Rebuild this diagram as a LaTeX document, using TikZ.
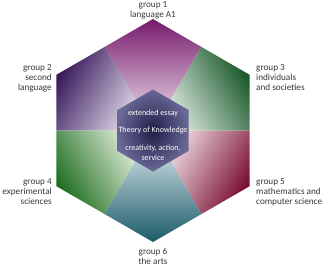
\documentclass[tikz,border=0pt]{standalone}
\usepackage{fontspec}
\setmainfont{Carlito}
\usepackage{tikz}
\usetikzlibrary{calc,positioning}
\definecolor{gOneD}{HTML}{761A6C}\definecolor{gOneM}{HTML}{B26AA8}\definecolor{gOneL}{HTML}{F6EEF4}
\definecolor{gTwoD}{HTML}{3A1C5E}\definecolor{gTwoM}{HTML}{7B5EA2}\definecolor{gTwoL}{HTML}{EEEAF4}
\definecolor{gThrD}{HTML}{1B5A2C}\definecolor{gThrM}{HTML}{5E9C74}\definecolor{gThrL}{HTML}{EEF6F0}
\definecolor{gFouD}{HTML}{216F22}\definecolor{gFouM}{HTML}{73AE5E}\definecolor{gFouL}{HTML}{F2F8EA}
\definecolor{gFivD}{HTML}{7A0F32}\definecolor{gFivM}{HTML}{C25A78}\definecolor{gFivL}{HTML}{FAEEF2}
\definecolor{gSixD}{HTML}{1A5A68}\definecolor{gSixM}{HTML}{62A6C4}\definecolor{gSixL}{HTML}{EEF6FA}
\definecolor{coreIn}{HTML}{201E48}\definecolor{coreOut}{HTML}{6A6896}
\tikzset{
  grouplabel/.style={font=\fontsize{9.2}{10}\selectfont, text=black!78, inner sep=0pt},
  corelabel/.style={font=\fontsize{8}{9.5}\selectfont, text=white, align=center, inner sep=0pt}
}
\begin{document}
\begin{tikzpicture}[x=1pt,y=1pt]
\useasboundingbox (0,0) rectangle (322,269);
\coordinate (hub) at (153,138.5);
% six sectors, each shaded from the hub towards its corner
\foreach \ang/\cd/\cm/\cl in {90/gOneD/gOneM/gOneL,150/gTwoD/gTwoM/gTwoL,30/gThrD/gThrM/gThrL,
                              210/gFouD/gFouM/gFouL,330/gFivD/gFivM/gFivL,270/gSixD/gSixM/gSixL}{
  \pgfmathsetmacro{\rot}{\ang-90}
  \shade[top color=\cd, middle color=\cm, bottom color=\cl, shading angle=\rot]
    (hub) -- ($(hub)+(\ang-30:96.56)$) -- ($(hub)+(\ang:111.5)$) -- ($(hub)+(\ang+30:96.56)$) -- cycle;
}
% core hexagon
\shade[inner color=coreIn, outer color=coreOut]
  ($(hub)+(90:41)$) -- ($(hub)+(150:41)$) -- ($(hub)+(210:41)$) -- ($(hub)+(270:41)$)
  -- ($(hub)+(330:41)$) -- ($(hub)+(30:41)$) -- cycle;
\node[corelabel] (essay) at (153,156) {extended essay};
\node[corelabel] (tok) at (153,139) {Theory of Knowledge};
\node[corelabel] (cas) at (153,116) {creativity, action,\\service};

\node[grouplabel, align=center, anchor=south] (g1) at (153,250) {group 1\\language A1};
\node[grouplabel, align=right, anchor=east] (g2) at (52,191) {group 2\\second\\language};
\node[grouplabel, align=left, anchor=west] (g3) at (256,191) {group 3\\individuals\\and societies};
\node[grouplabel, align=right, anchor=east] (g4) at (52,77) {group 4\\experimental\\sciences};
\node[grouplabel, align=left, anchor=west] (g5) at (256,77) {group 5\\mathematics and\\computer science};
\node[grouplabel, align=center, anchor=north] (g6) at (153,21) {group 6\\the arts};
\end{tikzpicture}
\end{document}
